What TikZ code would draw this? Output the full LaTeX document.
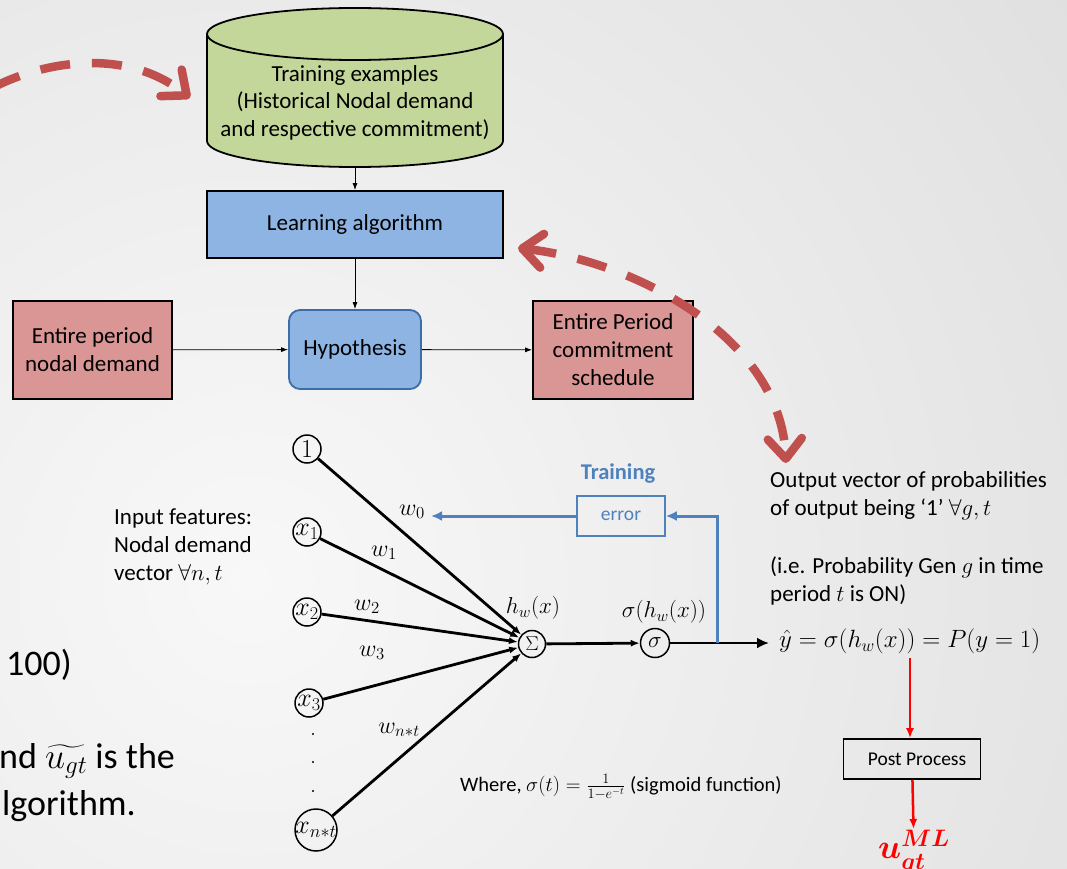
\RequirePackage{fix-cm}
\documentclass[tikz,border=0pt]{standalone}
\usepackage{exscale}
\usepackage[no-math]{fontspec}
\setmainfont{Carlito}
\usetikzlibrary{arrows.meta,calc}

\definecolor{bgin}{HTML}{F8F8F8}
\definecolor{bgout}{HTML}{D8D8D8}
\definecolor{cylgreen}{HTML}{C4D79B}
\definecolor{boxblue}{HTML}{8DB4E2}
\definecolor{hypborder}{HTML}{3C6DA8}
\definecolor{boxred}{HTML}{DA9694}
\definecolor{arcred}{HTML}{C0504D}
\definecolor{fbblue}{HTML}{4F81BD}

\newcommand{\fsz}[2]{\fontsize{#1}{#2}\selectfont}
% a label that may spill over the circle drawn round it
\newcommand{\spill}[1]{\makebox[0pt]{$#1$}}
\tikzset{redbarb/.tip={Straight Barb[length=20pt,width=34pt,round]}}

\begin{document}
\begin{tikzpicture}[x=1pt,y=-1pt,
  flowbox/.style={draw=black, line width=1.8pt, align=center, inner sep=0pt,
                  font=\fsz{23}{28}},
  thinarrow/.style={line width=0.8pt, -{Latex[length=7pt,width=5pt]}},
  neuron/.style={circle, draw=black, line width=1.5pt, inner sep=0pt,
                 minimum size=28pt, font=\fsz{26}{28}},
  wire/.style={line width=2.8pt, -{Latex[length=9pt,width=7pt]}},
  wlab/.style={font=\fsz{24}{26}},
  dasharc/.style={arcred, line width=8.5pt, dash pattern=on 30pt off 22pt},
  fbline/.style={fbblue, line width=3pt},
  redarrow/.style={red, line width=2.5pt, -{Latex[length=10pt,width=8pt]}},
  bodytext/.style={align=left, inner sep=0pt, font=\fsz{23}{28}},
  slidetext/.style={inner sep=0pt, font=\fsz{36}{46}}
]
\useasboundingbox (0,0) rectangle (1067,869);

% slide background
\begin{scope}
  \clip (0,0) rectangle (1067,869);
  \fill[bgout] (0,0) rectangle (1067,869);
  \shade[inner color=bgin, outer color=bgout] (250,580) circle (1350);
\end{scope}

% slide body text running under the figure
\node[slidetext, anchor=west] (t100) at (6,665) {100)};
\node[slidetext, anchor=base west] (tund) at (-1,768) {nd $\widetilde{u_{gt}}$ is the};
\node[slidetext, anchor=base west] (talg) at (2,815) {lgorithm.};

% ---------- learning pipeline ----------
% database cylinder
\fill[cylgreen] (207,34) -- (207,141)
  .. controls (207,155.4) and (273.3,167) .. (355,167)
  .. controls (436.7,167) and (503,155.4) .. (503,141) -- (503,34) -- cycle;
\fill[cylgreen] (355,34) ellipse [x radius=148, y radius=26];
\draw[line width=1.8pt] (207,34) -- (207,141)
  .. controls (207,155.4) and (273.3,167) .. (355,167)
  .. controls (436.7,167) and (503,155.4) .. (503,141) -- (503,34);
\draw[line width=1.8pt] (355,34) ellipse [x radius=148, y radius=26];
\node[align=center, inner sep=0pt, minimum width=296pt, minimum height=129pt,
      font=\fsz{23}{27.5}] (train) at (355,102.5)
  {Training examples\\(Historical Nodal demand\\and respective commitment)};

\node[flowbox, fill=boxblue, minimum width=296pt, minimum height=67pt]
  (learn) at (355,224.5) {Learning algorithm};
\node[flowbox, draw=hypborder, fill=boxblue, rounded corners=11pt,
      minimum width=132pt, minimum height=79pt] (hyp) at (355,349.5) {Hypothesis};
\node[flowbox, fill=boxred, minimum width=159pt, minimum height=98pt]
  (demand) at (92.5,350) {Entire period\\nodal demand};
\node[flowbox, fill=boxred, minimum width=160pt, minimum height=98pt]
  (commit) at (613,350) {Entire Period\\commitment\\schedule};

\draw[thinarrow] (train) -- (learn);
\draw[thinarrow] (learn) -- (hyp);
\draw[thinarrow] (demand) -- (hyp);
\draw[thinarrow] (hyp) -- (commit);

% red dashed arcs
\coordinate (arcAstart) at (-8,88);
\coordinate (arcAend) at (190,98);
\draw[dasharc, -{redbarb}] (arcAstart) .. controls (50,58) and (130,50) .. (arcAend);
\coordinate (arcBstart) at (518,248);
\coordinate (arcBend) at (786,463);
\draw[dasharc, {redbarb}-{redbarb}] (arcBstart) .. controls (640,262) and (780,340) .. (arcBend);

% ---------- single neuron ----------
\node[neuron] (in0) at (307,449) {\spill{1}};
\node[neuron] (in1) at (307,532) {\spill{x_1}};
\node[neuron] (in2) at (307,612) {\spill{x_2}};
\node[neuron] (in3) at (309,703) {\spill{x_3}};
\node[neuron, minimum size=42pt] (inN) at (316,830) {\spill{x_{n*t}}};
\foreach \yy [count=\k] in {734,762,791}
  \node[circle, fill=black, inner sep=0pt, minimum size=2.4pt] (dot\k) at (313,\yy) {};

\node[neuron, minimum size=27pt, font=\fsz{20}{22}] (sum) at (532,644) {\spill{\Sigma}};
\node[neuron, minimum size=29pt, font=\fsz{23}{26}] (sig) at (655,643) {\spill{\sigma}};

\node[font=\fsz{23}{26}] (hlab) at (533,608) {$h_w(x)$};
\node[font=\fsz{23}{26}] (slab) at (664,612) {$\sigma(h_w(x))$};

\foreach \n in {in0,in1,in2,in3,inN}
  \draw[wire] (\n) -- (sum);
\draw[wire] (sum) -- (sig);
\coordinate (outend) at (769,643);
\draw[wire, -{Latex[length=12pt,width=11pt]}] (sig) -- (outend);

\node[wlab] (w0) at (412,512) {$w_0$};
\node[wlab] (w1) at (384,553) {$w_1$};
\node[wlab] (w2) at (367,607) {$w_2$};
\node[wlab] (w3) at (372,653) {$w_3$};
\node[wlab] (wN) at (399,730) {$w_{n*t}$};

% training feedback loop
\node[draw=fbblue, line width=1.6pt, minimum width=88pt, minimum height=40pt,
      inner sep=0pt, text=fbblue, font=\fsz{19.5}{22}] (err) at (621,516) {error};
\node[text=fbblue, font=\bfseries\fsz{22.5}{26}] (trainlab) at (618,474) {Training};
\coordinate (tap) at (717,643);
\coordinate (wtip) at (431,516);
\draw[fbline, -{Latex[length=11pt,width=10pt]}] (tap) |- (err);
\draw[fbline, -{Latex[length=11pt,width=10pt]}] (err) -- (wtip);

% input description
\node[bodytext, anchor=west] (inputs) at (114,547)
  {Input features:\\Nodal demand\\vector $\forall n,t$};

% output description
\node[bodytext, anchor=west] (outA) at (770,496)
  {Output vector of probabilities\\of output being ‘1’ $\forall g,t$};
\node[bodytext, anchor=west] (outB) at (770,581)
  {(i.e. Probability Gen $g$ in time\\period $t$ is ON)};
\node[anchor=west, inner sep=0pt, font=\fsz{25}{28}] (yhat) at (779,641)
  {$\hat{y} = \sigma(h_w(x)) = P(y = 1)$};

\node[anchor=west, inner sep=0pt, font=\fsz{20.5}{22}] (where) at (460,787)
  {Where, $\sigma(t) = \frac{1}{1-e^{-t}}$ (sigmoid function)};

% post processing
\node[draw=black, line width=1.6pt, minimum width=137pt, minimum height=40pt,
      inner sep=0pt, font=\fsz{19.5}{22}] (post) at (912,759) {\hspace{10pt}Post Process};
\coordinate (ytap) at (910,658);
\node[text=red, inner sep=1pt, anchor=north, font={\fsz{34}{40}\boldmath}]
  (uml) at (914,829) {$u_{gt}^{ML}$};
\draw[redarrow] (ytap) -- (ytap |- post.north);
\draw[redarrow] (post) -- (uml);
\end{tikzpicture}
\end{document}
